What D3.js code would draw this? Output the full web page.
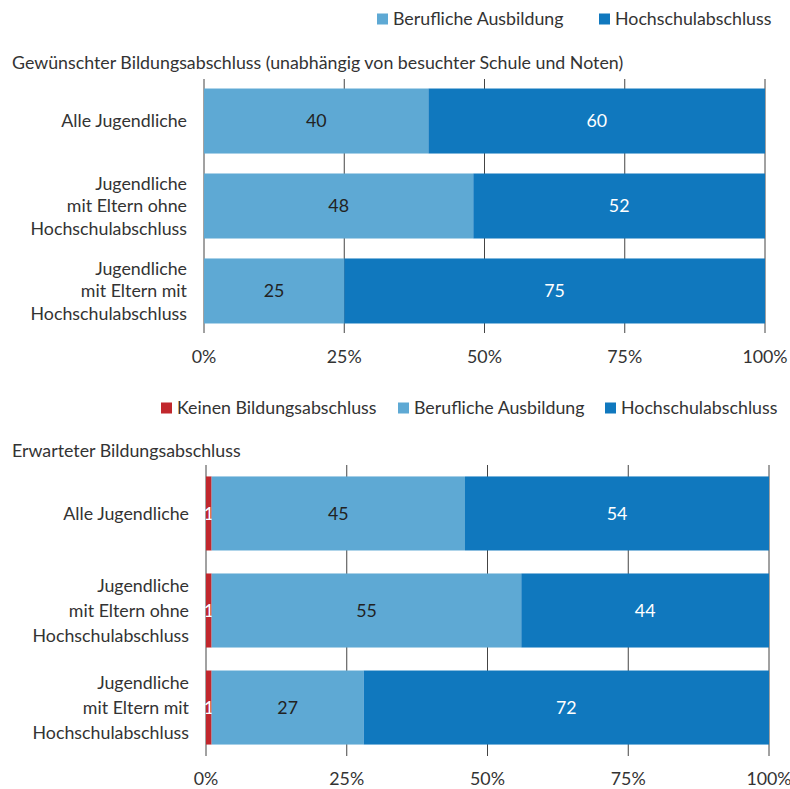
<!DOCTYPE html>
<html>
<head>
<meta charset="utf-8">
<script src="https://cdn.jsdelivr.net/npm/d3@7"></script>
<style>
  body { margin: 0; background: #fff; }
  svg { font-family: "Source Sans Pro", Lato, "Noto Sans", sans-serif; }
</style>
</head>
<body>
<svg id="chart" width="790" height="789"></svg>
<script>
// categories (lines of each label)
var categories = [
    ["Alle Jugendliche"],
    ["Jugendliche", "mit Eltern ohne", "Hochschulabschluss"],
    ["Jugendliche", "mit Eltern mit", "Hochschulabschluss"]
];
var tickValues = [0, 25, 50, 75, 100];

// wished degree
var wishKeys = ["Berufliche Ausbildung", "Hochschulabschluss"];
var wishBeruf = [40, 48, 25];
var wishHoch = [60, 52, 75];

// expected degree
var expKeys = ["Keinen Bildungsabschluss", "Berufliche Ausbildung", "Hochschulabschluss"];
var expKeine = [1, 1, 1];
var expBeruf = [45, 55, 27];
var expHoch = [54, 44, 72];

var colors = {
    "Keinen Bildungsabschluss": "#c1272d",
    "Berufliche Ausbildung": "#5ea9d4",
    "Hochschulabschluss": "#1078be"
};
var labelColor = {
    "Keinen Bildungsabschluss": "#fff",
    "Berufliche Ausbildung": "#222",
    "Hochschulabschluss": "#fff"
};
var FS = 17.8;

var svg = d3.select("#chart");

function drawLegend(keys, xs, y) {
    var g = svg.append("g");
    keys.forEach(function(k, i) {
        g.append("rect")
            .attr("x", xs[i]).attr("y", y - 5.5)
            .attr("width", 11).attr("height", 11)
            .attr("fill", colors[k]);
        g.append("text")
            .attr("x", xs[i] + 16).attr("y", y)
            .attr("dy", "0.35em")
            .attr("font-size", FS)
            .attr("fill", "#333")
            .text(k);
    });
}

function drawChart(opts) {
    var rows = categories.map(function(c, i) {
        var r = {idx: i};
        opts.keys.forEach(function(k, j) { r[k] = opts.series[j][i]; });
        return r;
    });

    var x = d3.scaleLinear().domain([0, 100]).range([opts.x0, opts.x1]);
    var y = d3.scaleBand().domain(d3.range(categories.length))
        .range([opts.gridTop, opts.gridBottom])
        .paddingInner(opts.padIn).paddingOuter(opts.padOut);

    var g = svg.append("g");

    // title
    g.append("text")
        .attr("x", 12).attr("y", opts.titleY)
        .attr("font-size", FS)
        .attr("fill", "#333")
        .text(opts.title);

    // grid / ticks
    g.selectAll(".grid").data(tickValues).join("line")
        .attr("x1", d => x(d)).attr("x2", d => x(d))
        .attr("y1", opts.gridTop).attr("y2", opts.gridBottom)
        .attr("stroke", "#444").attr("stroke-width", 1);

    g.selectAll(".tick").data(tickValues).join("text")
        .attr("x", d => x(d)).attr("y", opts.tickY)
        .attr("text-anchor", "middle")
        .attr("font-size", FS)
        .attr("fill", "#333")
        .text(d => d + "%");

    var stack = d3.stack().keys(opts.keys);
    var layers = stack(rows);

    layers.forEach(function(layer) {
        var k = layer.key;
        g.append("g").selectAll("rect").data(layer).join("rect")
            .attr("x", d => x(d[0]))
            .attr("y", d => y(d.data.idx))
            .attr("width", d => x(d[1]) - x(d[0]))
            .attr("height", y.bandwidth())
            .attr("fill", colors[k]);

        g.append("g").selectAll("text").data(layer).join("text")
            .attr("x", d => (x(d[0]) + x(d[1])) / 2)
            .attr("y", d => y(d.data.idx) + y.bandwidth() / 2)
            .attr("dy", "0.35em")
            .attr("text-anchor", "middle")
            .attr("font-size", FS)
            .attr("fill", labelColor[k])
            .text(d => d[1] - d[0]);
    });

    // category labels
    categories.forEach(function(lines, i) {
        var cy = y(i) + y.bandwidth() / 2;
        var t = g.append("text")
            .attr("text-anchor", "end")
            .attr("font-size", FS)
            .attr("fill", "#333");
        lines.forEach(function(l, j) {
            t.append("tspan")
                .attr("x", opts.x0 - 17)
                .attr("y", cy + (j - (lines.length - 1) / 2) * opts.lineH)
                .attr("dy", "0.35em")
                .text(l);
        });
    });
}

drawLegend(wishKeys, [377, 599], 19);
drawChart({
    title: "Gewünschter Bildungsabschluss (unabhängig von besuchter Schule und Noten)",
    titleY: 69,
    keys: wishKeys,
    series: [wishBeruf, wishHoch],
    x0: 204, x1: 765,
    padIn: 0.235, padOut: 0.112,
    gridTop: 79, gridBottom: 333,
    lineH: 22.5,
    tickY: 363
});

drawLegend(expKeys, [161, 398, 605], 408);
drawChart({
    title: "Erwarteter Bildungsabschluss",
    titleY: 457,
    keys: expKeys,
    series: [expKeine, expBeruf, expHoch],
    x0: 206, x1: 769,
    padIn: 0.237, padOut: 0.118,
    gridTop: 465, gridBottom: 756,
    lineH: 25,
    tickY: 785
});
</script>
</body>
</html>
